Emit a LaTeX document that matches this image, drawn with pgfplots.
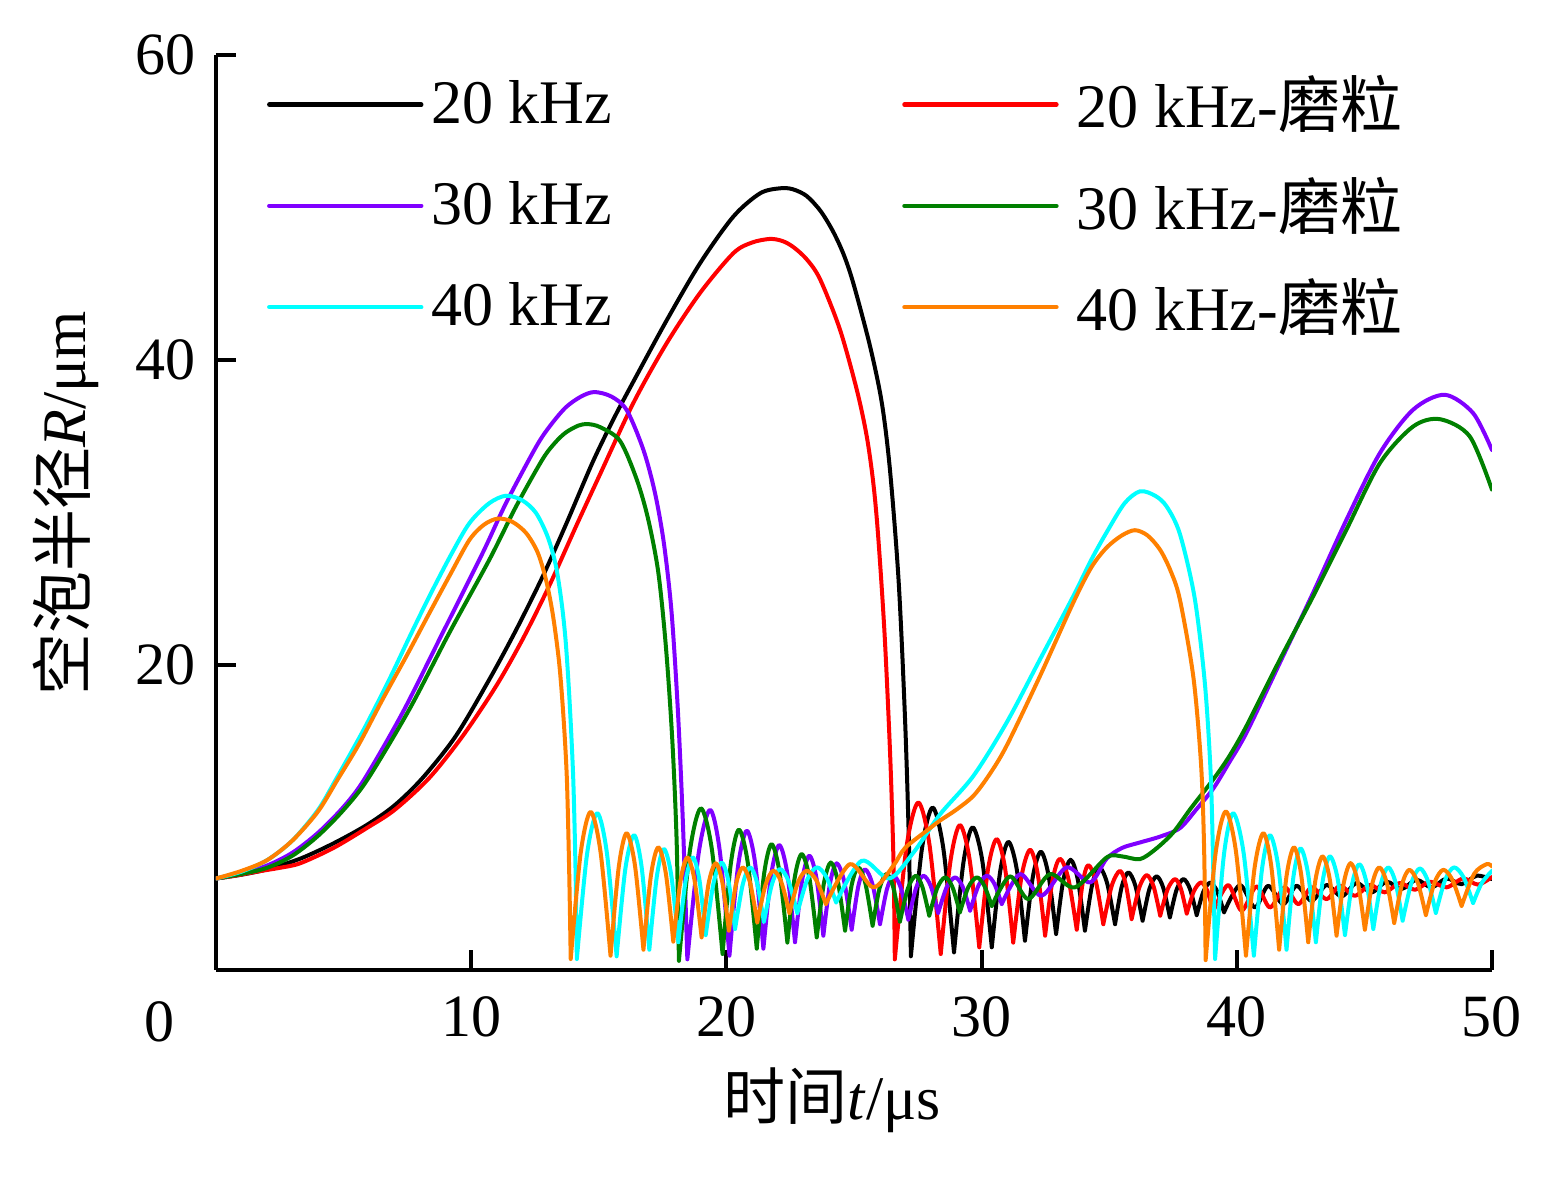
\documentclass[border=0pt]{standalone}
\usepackage{fontspec}
\setmainfont{Liberation Serif}
\newfontfamily\cjk{Noto Sans CJK SC}
\usepackage{pgfplots}
\pgfplotsset{compat=1.18}
\definecolor{cRed}{RGB}{255,0,0}
\definecolor{cPurple}{RGB}{128,0,255}
\definecolor{cGreen}{RGB}{0,128,0}
\definecolor{cCyan}{RGB}{0,255,255}
\definecolor{cOrange}{RGB}{255,128,0}
\begin{document}
\begin{tikzpicture}
\useasboundingbox (-54pt,-52.75pt) rectangle (335pt,242.5pt);
\begin{axis}[
  at={(0,0)}, anchor=south west,
  scale only axis, width=319pt, height=228.75pt,
  xmin=0, xmax=50, ymin=0, ymax=60,
  axis lines=left, axis line style={-, line width=1pt},
  xtick={10,20,30,40,50}, ytick={20,40,60},
  tick align=inside, major tick length=5pt, tick style={line width=1pt, black},
  /pgf/number format/assume math mode=true,
  tick label style={font=\fontsize{15}{18}\selectfont},
  xticklabel style={yshift=-3pt},
  yticklabel style={xshift=-1.5pt},
  xlabel={{\cjk 时间}\textit{t}/μs},
  ylabel={{\cjk 空泡半径}\textit{R}/μm},
  label style={font=\fontsize{15.5}{18}\selectfont},
  xlabel style={at={(axis description cs:0.483,-0.142)}, anchor=center},
  ylabel style={at={(axis description cs:-0.118,0.51)}, anchor=center},
  legend columns=2,
  legend style={draw=none, fill=none, at={(axis description cs:0.03,0.996)}, anchor=north west,
    font=\fontsize{15.5}{18}\selectfont, row sep=6.75pt,
    /tikz/every even column/.append style={column sep=70.5pt}},
  legend image code/.code={\draw[#1, line width=1.1pt] (0pt,0pt) -- (38pt,0pt);},
  legend cell align=left,
  unbounded coords=jump,
  every axis plot/.append style={smooth, line width=1pt, line cap=round, line join=round},
]
% 20 kHz
\addplot[black] coordinates {(0,6.0) (1.0,6.25) (2.0,6.6) (3.3,7.3) (4.6,8.3) (5.9,9.5) (7.0,10.8) (8.1,12.6) (9.4,15.35) (10.71,19.05) (11.76,22.3) (12.8,25.8) (13.71,29.2) (14.76,33.3) (15.6,36.2) (16.36,38.6) (17.66,42.6) (18.97,46.35) (20.27,49.4) (21.32,50.93) (22.1,51.26) (22.6,51.2) (23.15,50.75) (23.7,49.75) (24.19,48.4) (24.6,46.9) (24.98,45.0) (25.63,40.9) (26.09,37.2) (26.41,32.8) (26.75,25.5) (27.0,16.5) (27.15,8.5) (27.23,0.9)
(27.23,nan) (27.23,0.9) (27.66,7.92) (28.08,10.65) (28.5,7.99) (28.92,1.16)
(28.92,nan) (28.92,1.16) (29.29,7.06) (29.65,9.35) (30.03,7.15) (30.4,1.49)
(30.4,nan) (30.4,1.49) (30.73,6.47) (31.05,8.4) (31.38,6.59) (31.7,1.92)
(31.7,nan) (31.7,1.92) (32.01,6.12) (32.32,7.75) (32.62,6.24) (32.92,2.36)
(32.92,nan) (32.92,2.36) (33.2,5.87) (33.49,7.23) (33.77,5.93) (34.05,2.58)
(34.05,nan) (34.05,2.58) (34.33,5.57) (34.61,6.73) (34.92,5.69) (35.23,3.0)
(35.23,nan) (35.23,3.0) (35.49,5.45) (35.75,6.4) (36.03,5.51) (36.31,3.23)
(36.31,nan) (36.31,3.23) (36.58,5.33) (36.86,6.14) (37.12,5.39) (37.38,3.45)
(37.38,nan) (37.38,3.45) (37.64,5.26) (37.91,5.96) (38.17,5.3) (38.43,3.6)
(38.43,nan) (38.43,3.6) (38.69,5.13) (38.95,5.72) (39.22,5.2) (39.5,3.78)
(39.5,nan) (39.5,3.78) (40.12,5.57) (40.71,4.1) (41.23,5.52) (41.82,4.32) (42.34,5.52) (42.93,4.54) (43.52,5.57) (44.11,4.83) (44.69,5.7) (45.28,5.09) (45.87,5.79) (46.46,5.31) (47.04,5.92) (47.63,5.42) (48.22,6.0) (48.81,5.63) (49.4,6.18) (50,5.96)};
\addlegendentry{20 kHz}
% 20 kHz abrasive
\addplot[cRed] coordinates {(0,6.0) (0.8,6.2) (1.6,6.45) (2.5,6.7) (3.3,7.0) (4.6,8.0) (5.9,9.3) (7.0,10.5) (8.36,12.6) (9.67,15.35) (10.97,18.6) (12.02,21.7) (13.06,25.2) (14.11,29.1) (15.02,32.4) (16.36,37.2) (17.66,41.1) (18.97,44.4) (20.27,47.0) (21.0,47.7) (21.71,47.94) (22.2,47.8) (22.63,47.4) (23.15,46.6) (23.67,45.3) (24.45,42.0) (25.11,38.05) (25.5,35.0) (25.76,31.9) (25.95,28.4) (26.2,22.0) (26.42,14.0) (26.55,7.0) (26.6,0.7)
(26.6,nan) (26.6,0.7) (27.06,8.1) (27.52,10.98) (27.96,8.2) (28.4,1.05)
(28.4,nan) (28.4,1.05) (28.78,7.13) (29.15,9.5) (29.53,7.26) (29.91,1.49)
(29.91,nan) (29.91,1.49) (30.25,6.59) (30.59,8.58) (30.92,6.68) (31.24,1.8)
(31.24,nan) (31.24,1.8) (31.57,6.18) (31.9,7.88) (32.2,6.3) (32.49,2.25)
(32.49,nan) (32.49,2.25) (32.78,5.89) (33.07,7.3) (33.4,5.99) (33.73,2.64)
(33.73,nan) (33.73,2.64) (33.96,5.69) (34.18,6.88) (34.48,5.79) (34.77,3.0)
(34.77,nan) (34.77,3.0) (35.1,5.52) (35.42,6.5) (35.65,5.62) (35.88,3.34)
(35.88,nan) (35.88,3.34) (36.18,5.41) (36.47,6.22) (36.74,5.48) (37.0,3.56)
(37.0,nan) (37.0,3.56) (37.29,5.29) (37.58,5.96) (37.81,5.33) (38.04,3.7)
(38.04,nan) (38.04,3.7) (38.32,5.17) (38.6,5.74) (38.84,5.21) (39.08,3.85)
(39.08,nan) (39.08,3.85) (39.66,5.57) (40.19,3.89) (40.77,5.48) (41.3,4.1) (41.88,5.42) (42.41,4.32) (42.93,5.42) (43.52,4.65) (44.04,5.52) (44.63,4.87) (45.22,5.57) (45.8,5.09) (46.39,5.7) (46.98,5.26) (47.57,5.79) (48.22,5.42) (48.87,6.0) (49.45,5.6) (50,6.1)};
\addlegendentry{\hspace{2.5pt}20 kHz-{\cjk 磨粒}}
% 30 kHz
\addplot[cPurple] coordinates {(0,6.0) (1.0,6.35) (2.0,6.85) (3.0,7.7) (4.0,9.0) (5.0,10.7) (5.81,12.5) (7.31,16.87) (8.88,22.1) (10.45,27.35) (11.36,30.6) (12.54,34.3) (13.1,35.7) (13.71,36.9) (14.3,37.6) (14.83,37.9) (15.5,37.6) (16.1,36.7) (16.75,34.1) (17.2,31.3) (17.55,28.0) (17.85,23.5) (18.1,17.0) (18.3,9.5) (18.47,0.7)
(18.47,nan) (18.47,0.7) (18.92,7.73) (19.36,10.5) (19.74,7.82) (20.12,0.94)
(20.12,nan) (20.12,0.94) (20.46,6.84) (20.8,9.13) (21.13,6.97) (21.45,1.4)
(21.45,nan) (21.45,1.4) (21.76,6.29) (22.07,8.19) (22.38,6.41) (22.69,1.82)
(22.69,nan) (22.69,1.82) (22.97,5.9) (23.25,7.49) (23.53,6.02) (23.8,2.25)
(23.8,nan) (23.8,2.25) (24.06,5.67) (24.32,7.0) (24.62,5.78) (24.91,2.64)
(24.91,nan) (24.91,2.64) (25.17,5.49) (25.43,6.6) (25.73,5.59) (26.02,3.0)
(26.02,nan) (26.02,3.0) (26.29,5.29) (26.55,6.18) (26.84,5.37) (27.13,3.3)
(27.13,nan) (27.13,3.3) (27.43,5.37) (27.72,6.18) (28.01,5.5) (28.3,3.74)
(28.3,nan) (28.3,3.74) (28.63,5.42) (28.96,6.07) (29.26,5.46) (29.55,3.89)
(29.55,nan) (29.55,3.89) (29.88,5.54) (30.2,6.18) (30.5,5.66) (30.79,4.32)
(30.79,nan) (30.79,4.32) (31.51,6.29) (32.35,4.87) (33.33,6.73) (34.25,5.74) (34.9,7.3) (35.5,8.0) (36.2,8.36) (37.0,8.75) (37.77,9.3) (38.4,10.5) (39.08,11.9) (39.7,13.6) (40.38,15.56) (41.69,20.15) (42.99,24.73) (44.3,29.53) (45.61,33.9) (46.91,36.74) (48.15,37.72) (49.26,36.52) (50,34.1)};
\addlegendentry{30 kHz}
% 30 kHz abrasive
\addplot[cGreen] coordinates {(0,6.0) (1.0,6.3) (2.0,6.7) (3.0,7.5) (4.0,8.8) (5.0,10.5) (5.94,12.5) (7.58,17.1) (9.14,22.1) (10.71,26.9) (11.76,30.4) (12.8,33.5) (13.3,34.6) (13.71,35.25) (14.2,35.7) (14.56,35.8) (15.05,35.6) (15.83,34.7) (16.48,32.2) (16.93,29.6) (17.33,26.1) (17.63,21.2) (17.88,15.1) (18.05,8.5) (18.14,0.6)
(18.14,nan) (18.14,0.6) (18.57,7.8) (19.0,10.6) (19.43,7.93) (19.85,1.05)
(19.85,nan) (19.85,1.05) (20.17,6.92) (20.49,9.2) (20.84,7.02) (21.19,1.4)
(21.19,nan) (21.19,1.4) (21.48,6.33) (21.77,8.25) (22.08,6.44) (22.39,1.8)
(22.39,nan) (22.39,1.8) (22.67,5.98) (22.95,7.6) (23.25,6.07) (23.54,2.14)
(23.54,nan) (23.54,2.14) (23.82,5.68) (24.09,7.05) (24.37,5.8) (24.65,2.58)
(24.65,nan) (24.65,2.58) (24.91,5.57) (25.17,6.73) (25.45,5.66) (25.73,2.9)
(25.73,nan) (25.73,2.9) (26.0,5.35) (26.28,6.3) (26.54,5.42) (26.8,3.17)
(26.8,nan) (26.8,3.17) (27.11,5.34) (27.42,6.18) (27.68,5.45) (27.95,3.56)
(27.95,nan) (27.95,3.56) (28.26,5.37) (28.57,6.07) (28.86,5.43) (29.15,3.78)
(29.15,nan) (29.15,3.78) (29.48,5.43) (29.81,6.07) (30.1,5.55) (30.4,4.2)
(30.4,nan) (30.4,4.2) (31.11,6.14) (31.83,4.65) (32.68,6.29) (33.66,5.42) (34.9,7.38) (35.5,7.45) (36.2,7.27) (36.8,7.9) (37.5,9.0) (38.2,10.6) (39.08,12.5) (39.7,14.0) (40.38,16.0) (41.69,20.36) (42.99,24.5) (44.3,28.88) (45.61,33.24) (46.91,35.64) (47.96,36.12) (49.13,34.99) (50,31.5)};
\addlegendentry{\hspace{2.5pt}30 kHz-{\cjk 磨粒}}
% 40 kHz
\addplot[cCyan] coordinates {(0,6.0) (1.0,6.45) (2.0,7.2) (3.0,8.5) (4.0,10.5) (4.7,12.5) (5.8,15.8) (6.79,19.05) (7.6,21.9) (8.36,24.5) (9.2,27.2) (9.93,29.3) (10.7,30.6) (11.36,31.1) (12.0,30.8) (12.54,29.97) (13.0,28.4) (13.32,26.5) (13.55,24.0) (13.71,21.4) (13.86,17.5) (14.0,12.5) (14.09,6.5) (14.14,0.72)
(14.14,nan) (14.14,0.72) (14.54,7.6) (14.94,10.28) (15.32,7.65) (15.7,0.9)
(15.7,nan) (15.7,0.9) (16.04,6.62) (16.38,8.84) (16.68,6.74) (16.98,1.33)
(16.98,nan) (16.98,1.33) (17.27,6.08) (17.55,7.93) (17.84,6.22) (18.12,1.82)
(18.12,nan) (18.12,1.82) (18.4,5.82) (18.68,7.38) (18.94,5.95) (19.19,2.29)
(19.19,nan) (19.19,2.29) (19.5,5.72) (19.81,7.05) (20.08,5.83) (20.34,2.69)
(20.34,nan) (20.34,2.69) (20.64,5.6) (20.93,6.73) (21.2,5.73) (21.47,3.17)
(21.47,nan) (21.47,3.17) (21.79,5.65) (22.1,6.62) (22.44,5.81) (22.78,3.73)
(22.78,nan) (22.78,3.73) (23.16,5.89) (23.54,6.73) (23.92,6.09) (24.3,4.43)
(24.3,nan) (24.3,4.43) (25.3,7.16) (26.38,6.0) (27.33,7.7) (28.37,10.2) (29.68,12.73) (30.98,16.22) (32.29,20.37) (33.59,24.5) (34.3,26.9) (34.9,28.7) (35.6,30.6) (36.21,31.39) (36.8,31.1) (37.25,30.4) (37.77,28.6) (38.35,24.4) (38.75,18.8) (38.98,12.8) (39.08,6.5) (39.15,0.72)
(39.15,nan) (39.15,0.72) (39.5,7.6) (39.86,10.28) (40.27,7.66) (40.67,0.94)
(40.67,nan) (40.67,0.94) (40.99,6.63) (41.3,8.84) (41.63,6.74) (41.95,1.33)
(41.95,nan) (41.95,1.33) (42.22,6.11) (42.5,7.97) (42.8,6.25) (43.1,1.82)
(43.1,nan) (43.1,1.82) (43.37,5.87) (43.65,7.45) (43.95,6.01) (44.24,2.29)
(44.24,nan) (44.24,2.29) (44.52,5.64) (44.8,6.94) (45.08,5.75) (45.35,2.69)
(45.35,nan) (45.35,2.69) (45.64,5.6) (45.93,6.73) (46.22,5.75) (46.5,3.23)
(46.5,nan) (46.5,3.23) (46.84,5.7) (47.17,6.66) (47.49,5.84) (47.8,3.74)
(47.8,nan) (47.8,3.74) (48.16,5.89) (48.51,6.73) (48.89,6.07) (49.26,4.39)
(49.26,nan) (49.26,4.39) (49.6,5.7) (50,6.5)};
\addlegendentry{40 kHz}
% 40 kHz abrasive
\addplot[cOrange] coordinates {(0,6.0) (1.0,6.5) (2.0,7.2) (3.0,8.5) (4.0,10.4) (4.77,12.5) (5.6,14.8) (6.53,17.75) (7.5,20.7) (8.36,23.4) (9.2,26.0) (9.93,28.2) (10.5,29.2) (11.04,29.6) (11.6,29.4) (12.15,28.66) (12.6,27.4) (12.93,25.6) (13.2,23.3) (13.45,20.1) (13.62,16.5) (13.75,12.5) (13.84,6.5) (13.9,0.72)
(13.9,nan) (13.9,0.72) (14.29,7.67) (14.68,10.37) (15.07,7.73) (15.46,0.94)
(15.46,nan) (15.46,0.94) (15.78,6.72) (16.09,8.97) (16.42,6.83) (16.75,1.33)
(16.75,nan) (16.75,1.33) (17.04,6.16) (17.33,8.04) (17.63,6.31) (17.92,1.86)
(17.92,nan) (17.92,1.86) (18.2,5.83) (18.47,7.38) (18.75,5.91) (19.03,2.14)
(19.03,nan) (19.03,2.14) (19.3,5.64) (19.58,7.0) (19.84,5.76) (20.1,2.58)
(20.1,nan) (20.1,2.58) (20.37,5.57) (20.64,6.73) (20.93,5.72) (21.21,3.12)
(21.21,nan) (21.21,3.12) (21.53,5.56) (21.84,6.51) (22.16,5.73) (22.47,3.73)
(22.47,nan) (22.47,3.73) (22.8,5.73) (23.14,6.51) (23.52,5.9) (23.9,4.32)
(23.9,nan) (23.9,4.32) (24.84,6.94) (25.76,5.42) (26.54,6.83) (27.0,8.0) (27.98,9.3) (28.37,9.8) (29.0,10.5) (29.68,11.42) (30.3,12.8) (30.98,14.7) (32.29,19.28) (33.59,24.08) (34.3,26.4) (34.9,27.7) (35.5,28.5) (36.01,28.84) (36.5,28.5) (36.99,27.57) (37.4,26.2) (37.77,24.3) (38.3,19.2) (38.6,13.5) (38.72,8.0) (38.78,0.65)
(38.78,nan) (38.78,0.65) (39.17,7.66) (39.57,10.4) (39.97,7.75) (40.36,0.94)
(40.36,nan) (40.36,0.94) (40.7,6.72) (41.04,8.97) (41.35,6.83) (41.66,1.33)
(41.66,nan) (41.66,1.33) (41.95,6.16) (42.24,8.04) (42.52,6.3) (42.8,1.82)
(42.8,nan) (42.8,1.82) (43.08,5.87) (43.36,7.45) (43.64,5.99) (43.91,2.25)
(43.91,nan) (43.91,2.25) (44.19,5.68) (44.46,7.01) (44.74,5.79) (45.02,2.64)
(45.02,nan) (45.02,2.64) (45.3,5.58) (45.58,6.73) (45.88,5.71) (46.17,3.08)
(46.17,nan) (46.17,3.08) (46.47,5.59) (46.76,6.57) (47.09,5.74) (47.41,3.6)
(47.41,nan) (47.41,3.6) (47.75,5.74) (48.09,6.57) (48.45,5.91) (48.81,4.2)
(48.81,nan) (48.81,4.2) (49.3,6.3) (49.79,6.94) (50,6.8)};
\addlegendentry{\hspace{2.5pt}40 kHz-{\cjk 磨粒}}
\end{axis}
\node[font=\fontsize{15}{18}\selectfont] at (-14pt,-13pt) {0};
\end{tikzpicture}
\end{document}
